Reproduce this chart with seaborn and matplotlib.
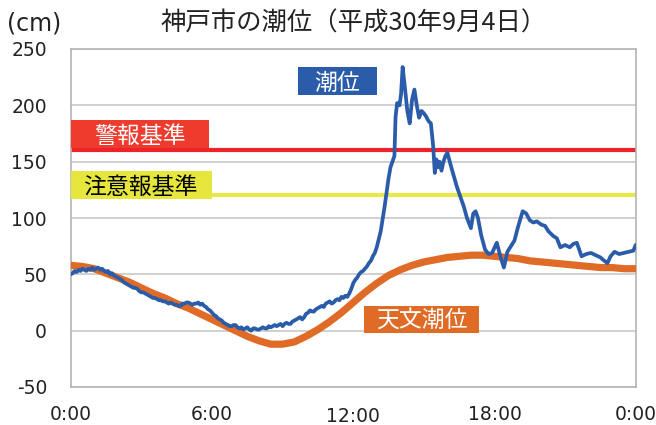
import numpy as np
import pandas as pd
import seaborn as sns
import matplotlib.pyplot as plt
from matplotlib.patches import Rectangle
from matplotlib.transforms import ScaledTranslation

# observed tide (潮位), time in minutes after 0:00, level in cm
# 0:00 - 12:55 every 5 minutes
obs_min_early = list(range(0, 780, 5))
obs_cm_early = [50, 51, 53, 52, 54, 53, 55, 54, 53, 55, 54, 56,
                54, 55, 56, 54, 55, 53, 52, 53, 50, 51, 49, 48,
                47, 46, 45, 43, 42, 41, 40, 39, 38, 38, 37, 35,
                34, 34, 33, 32, 31, 30, 29, 29, 28, 27, 27, 26,
                26, 25, 24, 25, 24, 23, 23, 22, 22, 24, 24, 25,
                25, 24, 23, 24, 24, 25, 23, 24, 22, 21, 19, 18,
                16, 14, 13, 11, 10, 9, 7, 6, 5, 4, 4, 5,
                5, 3, 2, 3, 1, 2, 3, 1, 0, 2, 2, 1,
                1, 2, 3, 2, 2, 4, 3, 4, 5, 4, 5, 6,
                4, 6, 7, 6, 6, 8, 9, 10, 11, 12, 10, 12,
                15, 16, 18, 17, 17, 19, 20, 21, 22, 21, 24, 25,
                26, 24, 25, 27, 28, 27, 30, 29, 31, 30, 33, 37,
                42, 45, 47, 50, 52, 53, 55, 57, 60, 62, 66, 69]
# 13:00 - 24:00 (storm surge part)
obs_min_late = [780, 790, 800, 810, 815, 820,
                825, 828, 832, 838, 842, 846, 852, 858, 864, 870, 876, 882,
                888, 894, 900, 906, 912, 918, 924, 928, 932, 936, 940, 945,
                950, 955, 960, 970, 984, 994, 1002, 1010, 1020, 1026, 1032, 1038,
                1046, 1056, 1065, 1074, 1086, 1095, 1104, 1113, 1122, 1131, 1140, 1152,
                1161, 1170, 1179, 1188, 1200, 1209, 1218, 1230, 1239, 1248, 1260, 1272,
                1281, 1290, 1296, 1302, 1314, 1326, 1338, 1350, 1360, 1368, 1376, 1386,
                1398, 1410, 1422, 1434, 1440]
obs_cm_late = [74, 88, 110, 135, 145, 150,
               155, 190, 202, 200, 210, 234, 215, 195, 184, 205, 214, 200,
               189, 195, 193, 190, 186, 184, 163, 140, 152, 145, 150, 142,
               150, 155, 158, 145, 128, 118, 110, 100, 91, 104, 106, 100,
               85, 72, 68, 69, 78, 66, 56, 70, 75, 80, 92, 106,
               104, 98, 96, 97, 94, 93, 88, 84, 82, 74, 76, 74,
               77, 78, 72, 66, 68, 69, 67, 65, 62, 60, 66, 70,
               68, 69, 70, 71, 76]

# astronomical tide (天文潮位), every 30 minutes
astro_min = list(range(0, 1441, 30))
astro_cm = [58, 57, 55, 51, 47, 43, 38, 33, 29, 24, 20, 15, 10, 5, 0, -5,
            -9, -12, -12, -10, -5, 1, 8, 16, 25, 34, 42, 49, 54, 58, 61, 63,
            65, 66, 67, 67, 66, 65, 64, 62, 61, 60, 59, 58, 57, 56, 56, 55, 55]

warning_level = 160      # 警報基準
advisory_level = 120     # 注意報基準

y_ticks = [-50, 0, 50, 100, 150, 200, 250]
x_labels = {0: '0:00', 6: '6:00', 12: '12:00', 18: '18:00', 24: '0:00'}

blue = '#2a5caa'
orange = '#df6b27'
red = '#ee2229'
red_box = '#ee3b2e'
yellow = '#e8e84a'
yellow_box = '#e6e63c'

obs = pd.DataFrame({'hour': np.array(obs_min_early + obs_min_late) / 60,
                    'cm': obs_cm_early + obs_cm_late})
astro = pd.DataFrame({'hour': np.array(astro_min) / 60, 'cm': astro_cm})

sns.set_style('white')
plt.rcParams['font.family'] = ['Noto Sans CJK JP', 'DejaVu Sans']
plt.rcParams['axes.unicode_minus'] = False

fig = plt.figure(figsize=(6.56, 4.25), dpi=100)
W, H = 656, 425
left, right, top, bottom = 70.7, 635.7, 49, 387
ax = fig.add_axes([left / W, 1 - bottom / H, (right - left) / W, (bottom - top) / H])

ax.axhline(warning_level, color=red, lw=3, zorder=2)
ax.axhline(advisory_level, color=yellow, lw=3, zorder=2)

sns.lineplot(data=astro, x='hour', y='cm', ax=ax, color=orange, lw=5.2, zorder=3)
sns.lineplot(data=obs, x='hour', y='cm', ax=ax, color=blue, lw=2.7, zorder=4)

ax.set_xlim(0, 24)
ax.set_ylim(-50, 250)
ax.set_xlabel('')
ax.set_ylabel('')

# gridlines and frame
for s in ax.spines.values():
    s.set_color('#b4b4b4')
    s.set_linewidth(1.2)
ax.set_yticks(y_ticks)
ax.yaxis.grid(True, color='#c4c4c4', lw=1.1)
ax.set_axisbelow(True)
ax.tick_params(axis='y', direction='out', length=5, width=1.1, color='#b4b4b4',
               pad=12, labelsize=13.5, labelcolor='#222222', labelfontfamily='DejaVu Sans')
ax.set_xticks(range(25))
ax.set_xticklabels([x_labels.get(h, '') for h in range(25)])
ax.tick_params(axis='x', direction='in', length=4.5, width=1.1, color='#b4b4b4',
               pad=13, labelsize=13.5, labelcolor='#222222', labelfontfamily='DejaVu Sans')
for lbl in ax.get_xticklabels():
    if lbl.get_text() == '12:00':
        lbl.set_transform(lbl.get_transform() + ScaledTranslation(0, -0.02, fig.dpi_scale_trans))

# label boxes
boxes = [
    ('潮位', 9.65, 13.01, 209.4, 234.3, blue, 'white', 11.33),
    ('警報基準', 0.01, 5.88, 162.4, 187.2, red_box, 'white', 2.94),
    ('注意報基準', 0.01, 6.0, 117.1, 142.0, yellow_box, 'black', 2.96),
    ('天文潮位', 12.46, 17.35, -1.8, 22.2, orange, 'white', 14.91),
]
for text, x0, x1, y0, y1, fc, tc, xt in boxes:
    ax.add_patch(Rectangle((x0, y0), x1 - x0, y1 - y0, facecolor=fc, edgecolor='none', zorder=5))
    ax.text(xt, (y0 + y1) / 2, text, color=tc, fontsize=16.5, ha='center', va='center_baseline', zorder=6)

fig.text(354 / W, 1 - 24 / H, '神戸市の潮位（平成30年9月4日）', fontsize=18.3, ha='center', va='center', color='#222222')
fig.text(34 / W, 1 - 24 / H, '(cm)', fontsize=17, ha='center', va='center', family='DejaVu Sans', color='#222222')

fig.savefig('out.png', dpi=100)
plt.close()
